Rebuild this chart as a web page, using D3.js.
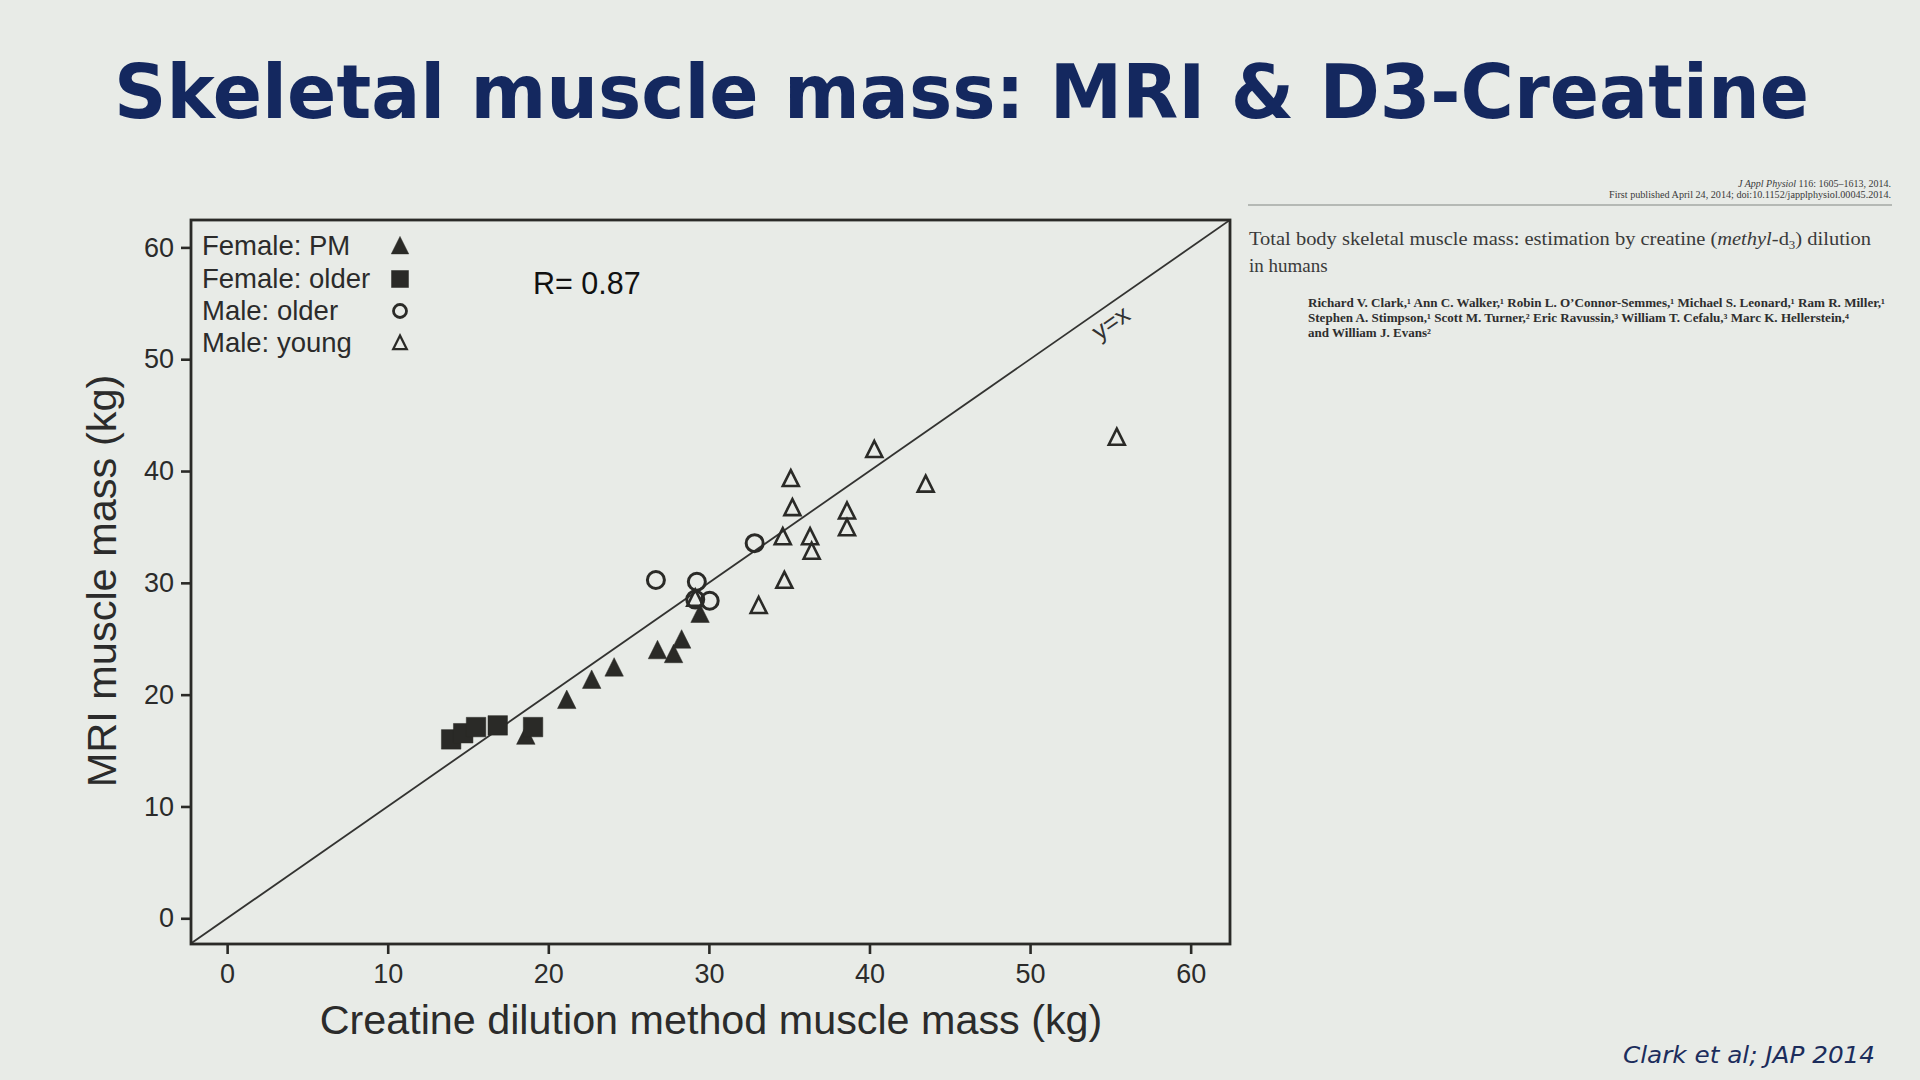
<!DOCTYPE html>
<html>
<head>
<meta charset="utf-8">
<script src="https://cdn.jsdelivr.net/npm/d3@7"></script>
<style>
  html, body { margin: 0; padding: 0; background: #e8ebe7; }
  svg { display: block; }
</style>
</head>
<body>
<svg id="chart" width="1920" height="1080"></svg>
<script>
// ---------- data ----------
const xTicks = [0, 10, 20, 30, 40, 50, 60];
const yTicks = [0, 10, 20, 30, 40, 50, 60];
const groupNames = ["Female: PM", "Female: older", "Male: older", "Male: young"];

const femalePM_x = [18.6, 21.15, 22.7, 24.1, 26.8, 27.8, 28.3, 29.45];
const femalePM_y = [16.3, 19.5, 21.3, 22.4, 23.95, 23.6, 24.9, 27.2];

const femaleOlder_x = [13.95, 14.7, 15.5, 16.85, 19.05];
const femaleOlder_y = [16.0, 16.55, 17.1, 17.25, 17.1];

const maleOlder_x = [26.7, 29.25, 29.15, 30.05, 32.85];
const maleOlder_y = [30.25, 30.1, 28.5, 28.4, 33.55];

const maleYoung_x = [29.15, 33.1, 34.7, 34.6, 35.2, 35.1, 36.3, 36.4, 38.6, 38.6, 40.3, 43.5, 55.4];
const maleYoung_y = [28.6, 27.95, 30.2, 34.1, 36.7, 39.3, 34.1, 32.8, 34.9, 36.4, 41.9, 38.8, 43.0];

const rValue = "R= 0.87";
const titleText = "Skeletal muscle mass: MRI & D3-Creatine";
const xLabel = "Creatine dilution method muscle mass (kg)";
const yLabel = "MRI muscle mass (kg)";
const citation = "Clark et al; JAP 2014";

(function () {
// ---------- setup ----------
const svg = d3.select("#chart");
const ink = "#2a2a27";
svg.append("rect").attr("width", 1920).attr("height", 1080).attr("fill", "#e8ebe7");

// Title
svg.append("text")
  .attr("x", 114).attr("y", 118)
  .attr("textLength", 1695).attr("lengthAdjust", "spacingAndGlyphs")
  .attr("font-family", "'DejaVu Sans', Verdana, sans-serif")
  .attr("font-weight", "bold").attr("font-size", 75)
  .attr("fill", "#14285f")
  .text(titleText);

// Citation
svg.append("text")
  .attr("x", 1623).attr("y", 1063)
  .attr("textLength", 252).attr("lengthAdjust", "spacingAndGlyphs")
  .attr("font-family", "'DejaVu Sans', Verdana, sans-serif")
  .attr("font-style", "italic").attr("font-size", 23)
  .attr("fill", "#1c2d5c")
  .text(citation);

// ---------- paper header (right side) ----------
const paper = svg.append("g").attr("font-family", "'Liberation Serif', 'Times New Roman', serif").attr("fill", "#3a3a3a");
const h1 = paper.append("text").attr("x", 1891).attr("y", 187).attr("text-anchor", "end").attr("font-size", 10);
h1.append("tspan").attr("font-style", "italic").text("J Appl Physiol");
h1.append("tspan").text(" 116: 1605–1613, 2014.");
paper.append("text").attr("x", 1891).attr("y", 198).attr("text-anchor", "end").attr("font-size", 10)
  .attr("textLength", 282).attr("lengthAdjust", "spacingAndGlyphs")
  .text("First published April 24, 2014; doi:10.1152/japplphysiol.00045.2014.");
paper.append("line").attr("x1", 1248).attr("x2", 1892).attr("y1", 205).attr("y2", 205)
  .attr("stroke", "#a5a8a5").attr("stroke-width", 1.6);

const t1 = paper.append("text").attr("x", 1249).attr("y", 245).attr("font-size", 19)
  .attr("textLength", 622).attr("lengthAdjust", "spacingAndGlyphs");
t1.append("tspan").text("Total body skeletal muscle mass: estimation by creatine (");
t1.append("tspan").attr("font-style", "italic").text("methyl");
t1.append("tspan").text("-d");
t1.append("tspan").attr("font-size", 12).attr("dy", 4).text("3");
t1.append("tspan").attr("dy", -4).text(") dilution");
paper.append("text").attr("x", 1249).attr("y", 272).attr("font-size", 19).text("in humans");

const authors = [
  ["Richard V. Clark,¹ Ann C. Walker,¹ Robin L. O’Connor-Semmes,¹ Michael S. Leonard,¹ Ram R. Miller,¹", 307, 577],
  ["Stephen A. Stimpson,¹ Scott M. Turner,² Eric Ravussin,³ William T. Cefalu,³ Marc K. Hellerstein,⁴", 322, 541],
  ["and William J. Evans²", 337, 123]
];
authors.forEach(a => {
  paper.append("text").attr("x", 1308).attr("y", a[1]).attr("font-size", 11.5)
    .attr("font-weight", "bold").attr("fill", "#2e2e2e")
    .attr("textLength", a[2]).attr("lengthAdjust", "spacingAndGlyphs")
    .text(a[0]);
});

// ---------- plot ----------
const pL = 191, pR = 1230, pT = 220, pB = 944;
const x = d3.scaleLinear().domain([-2.25, 62.45]).range([pL, pR]);
const y = d3.scaleLinear().domain([-2.3, 62.45]).range([pB, pT]);

const font = "'Liberation Sans', Arial, Helvetica, sans-serif";

// axes
const xAxis = svg.append("g").attr("transform", `translate(0,${pB})`)
  .call(d3.axisBottom(x).tickValues(xTicks).tickSize(10).tickSizeOuter(0).tickPadding(10));
const yAxis = svg.append("g").attr("transform", `translate(${pL},0)`)
  .call(d3.axisLeft(y).tickValues(yTicks).tickSize(10).tickSizeOuter(0).tickPadding(7));
[xAxis, yAxis].forEach(ax => {
  ax.select(".domain").remove();
  ax.selectAll(".tick line").attr("stroke", ink).attr("stroke-width", 2.6);
  ax.selectAll(".tick text").attr("font-family", font).attr("font-size", 27).attr("fill", "#2b2b2b");
});

// clip
svg.append("clipPath").attr("id", "plotclip").append("rect")
  .attr("x", pL).attr("y", pT).attr("width", pR - pL).attr("height", pB - pT);

// identity line
const hi = Math.min(x.domain()[1], y.domain()[1]);
svg.append("line")
  .attr("clip-path", "url(#plotclip)")
  .attr("x1", x(-2.3)).attr("y1", y(-2.3)).attr("x2", x(hi)).attr("y2", y(hi))
  .attr("stroke", "#333331").attr("stroke-width", 1.8);

const ang = Math.atan2(y(0) - y(60), x(60) - x(0)) * 180 / Math.PI;
svg.append("text")
  .attr("transform", `translate(${x(55)},${y(55) + 19}) rotate(${-ang})`)
  .attr("text-anchor", "middle").attr("dominant-baseline", "central")
  .attr("font-family", font).attr("font-size", 25).attr("fill", "#333")
  .text("y=x");

// custom symbols
const triUp = {
  draw(ctx, size) {
    const s = Math.sqrt(size);
    ctx.moveTo(0, -s * 0.55);
    ctx.lineTo(s / 2, s * 0.45);
    ctx.lineTo(-s / 2, s * 0.45);
    ctx.closePath();
  }
};
const sq = {
  draw(ctx, size) {
    const s = Math.sqrt(size) / 2;
    ctx.rect(-s, -s, 2 * s, 2 * s);
  }
};
const circ = {
  draw(ctx, size) {
    const r = Math.sqrt(size) / 2;
    ctx.moveTo(r, 0);
    ctx.arc(0, 0, r, 0, 2 * Math.PI);
  }
};

const plot = svg.append("g");

function drawSeries(xs, ys, type, size, filled, sw) {
  const pts = xs.map((v, i) => ({ x: v, y: ys[i] }));
  plot.selectAll(null).data(pts).enter().append("path")
    .attr("transform", d => `translate(${x(d.x)},${y(d.y)})`)
    .attr("d", d3.symbol().type(type).size(size * size))
    .attr("fill", filled ? ink : "none")
    .attr("stroke", ink)
    .attr("stroke-width", filled ? 0.5 : sw)
    .attr("stroke-linejoin", "miter");
}

drawSeries(femalePM_x, femalePM_y, triUp, 18.5, true, 0);
drawSeries(femaleOlder_x, femaleOlder_y, sq, 19.5, true, 0);
drawSeries(maleOlder_x, maleOlder_y, circ, 17, false, 3);
drawSeries(maleYoung_x, maleYoung_y, triUp, 16, false, 2.6);

// frame
svg.append("rect").attr("x", pL).attr("y", pT).attr("width", pR - pL).attr("height", pB - pT)
  .attr("fill", "none").attr("stroke", ink).attr("stroke-width", 2.8);

// legend
const legendSymbols = [
  { type: triUp, size: 17.5, filled: true, sw: 0 },
  { type: sq, size: 17, filled: true, sw: 0 },
  { type: circ, size: 13, filled: false, sw: 2.8 },
  { type: triUp, size: 13.5, filled: false, sw: 2.3 }
];
const legendY = [255, 288, 320, 352];
const legend = svg.append("g");
groupNames.forEach((name, i) => {
  legend.append("text").attr("x", 202).attr("y", legendY[i])
    .attr("font-family", font).attr("font-size", 27.5).attr("fill", "#2b2b2b")
    .text(name);
  const s = legendSymbols[i];
  legend.append("path")
    .attr("transform", `translate(400,${legendY[i] - 9})`)
    .attr("d", d3.symbol().type(s.type).size(s.size * s.size))
    .attr("fill", s.filled ? ink : "none")
    .attr("stroke", ink).attr("stroke-width", s.filled ? 0.5 : s.sw);
});

svg.append("text").attr("x", 533).attr("y", 294)
  .attr("font-family", font).attr("font-size", 30.5).attr("fill", "#111")
  .text(rValue);

// axis titles
svg.append("text").attr("x", 711).attr("y", 1034).attr("text-anchor", "middle")
  .attr("font-family", font).attr("font-size", 41.3).attr("fill", "#2b2b2b")
  .text(xLabel);
svg.append("text").attr("transform", "translate(116,581) rotate(-90)").attr("text-anchor", "middle")
  .attr("font-family", font).attr("font-size", 41.5).attr("fill", "#2b2b2b")
  .text(yLabel);
})();
</script>
</body>
</html>
